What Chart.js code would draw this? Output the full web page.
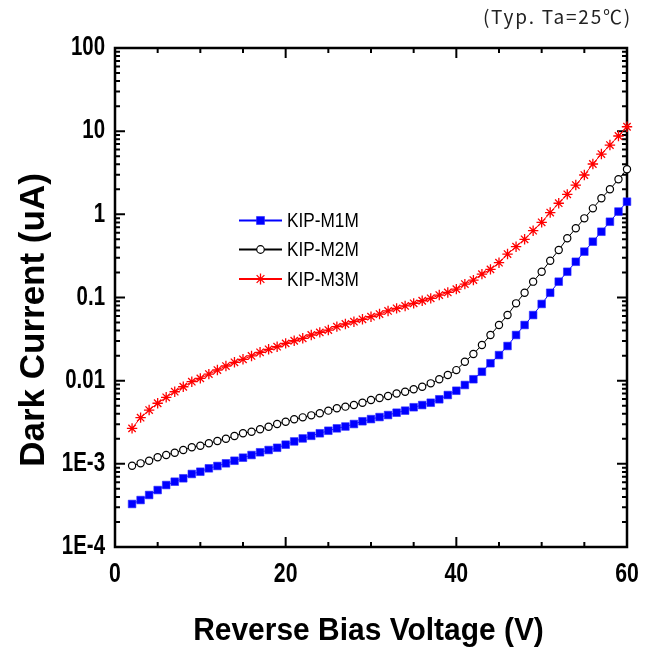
<!DOCTYPE html>
<html><head><meta charset="utf-8">
<script src="https://cdn.jsdelivr.net/npm/chart.js@4.4.1/dist/chart.umd.min.js"></script>
<style>html,body{margin:0;padding:0;background:#fff}#wrap{width:652px;height:648px}</style>
</head><body><div id="wrap"><canvas id="c" width="652" height="648"></canvas></div>
<script>
const voltage = [2,3,4,5,6,7,8,9,10,11,12,13,14,15,16,17,18,19,20,21,22,23,24,25,26,27,28,29,30,31,32,33,34,35,36,37,38,39,40,41,42,43,44,45,46,47,48,49,50,51,52,53,54,55,56,57,58,59,60];
const m1m = [3.29e-4,3.67e-4,4.22e-4,4.84e-4,5.56e-4,6.10e-4,6.70e-4,7.55e-4,8.04e-4,8.83e-4,
  9.42e-4,1.014e-3,1.09e-3,1.186e-3,1.276e-3,1.377e-3,1.466e-3,1.56e-3,1.70e-3,1.86e-3,
  2.02e-3,2.17e-3,2.33e-3,2.50e-3,2.67e-3,2.81e-3,3.01e-3,3.25e-3,3.45e-3,3.65e-3,
  3.86e-3,4.12e-3,4.36e-3,4.79e-3,5.09e-3,5.43e-3,5.97e-3,6.72e-3,7.57e-3,8.87e-3,
  0.0104,0.0128,0.0162,0.0203,0.0261,0.0354,0.0467,0.0615,0.0836,0.114,
  0.155,0.204,0.269,0.356,0.469,0.618,0.815,1.08,1.42];
const m2m = [9.5e-4,1.014e-3,1.09e-3,1.198e-3,1.276e-3,1.36e-3,1.466e-3,1.58e-3,1.65e-3,1.77e-3,
  1.88e-3,2.0e-3,2.16e-3,2.33e-3,2.43e-3,2.60e-3,2.79e-3,3.01e-3,3.21e-3,3.43e-3,
  3.62e-3,3.83e-3,4.05e-3,4.36e-3,4.66e-3,4.87e-3,5.09e-3,5.43e-3,5.85e-3,6.19e-3,
  6.54e-3,7.01e-3,7.36e-3,7.87e-3,8.45e-3,9.29e-3,0.01038,0.0117,0.0134,0.0169,
  0.0209,0.0269,0.0354,0.0467,0.0615,0.0851,0.114,0.155,0.204,0.277,
  0.372,0.515,0.679,0.895,1.18,1.56,2.0,2.64,3.48];
const m3m = [0.00267,0.00359,0.00443,0.00535,0.00631,0.00736,0.00845,0.00972,0.01066,0.0120,
  0.01343,0.0150,0.01663,0.01807,0.01982,0.02193,0.02382,0.02559,0.0281,0.0302,
  0.0323,0.0354,0.0381,0.0406,0.0446,0.0480,0.0512,0.0547,0.0588,0.0632,
  0.0689,0.0741,0.0791,0.0851,0.0914,0.0977,0.107,0.115,0.126,0.145,
  0.162,0.191,0.218,0.262,0.333,0.408,0.501,0.636,0.802,1.05,
  1.36,1.74,2.25,2.97,4.03,5.31,6.81,8.75,11.3];
const seriesNames = ['KIP-M1M','KIP-M2M','KIP-M3M'];
const xTickValues = [0,20,40,60];
const xTickLabels = ['0','20','40','60'];
const yTickValues = [1e-4,1e-3,0.01,0.1,1,10,100];
const yTickLabels = ['1E-4','1E-3','0.01','0.1','1','10','100'];
const noteText = '(Typ. Ta=25\u2103)';
const xTitle = 'Reverse Bias Voltage (V)';
const yTitle = 'Dark Current (uA)';

const SANS = "'Liberation Sans',Arial,sans-serif";
const CJK = "'Noto Sans CJK KR','Liberation Sans',sans-serif";

function pts(arr){ return voltage.map((v,i)=>({x:v,y:arr[i]})); }

function squeezed(ctx, text, x, y, sx, align){
  ctx.save();
  ctx.translate(x,y);
  ctx.scale(sx,1);
  ctx.textAlign = align;
  ctx.fillText(text,0,0);
  ctx.restore();
}

const framePlugin = {
  id:'frame',
  beforeDatasetsDraw(chart){
    const {ctx, chartArea:a, scales:{x,y}} = chart;
    ctx.save();
    ctx.strokeStyle='#000';
    ctx.lineWidth=2;
    ctx.beginPath();
    for(let v=0; v<=60; v+=5){
      const px = x.getPixelForValue(v);
      const len = (v%20===0)?10:5;
      ctx.moveTo(px,a.bottom); ctx.lineTo(px,a.bottom-len);
      ctx.moveTo(px,a.top); ctx.lineTo(px,a.top+len);
    }
    for(let d=-4; d<=2; d++){
      for(let k=1;k<=9;k++){
        const v = k*Math.pow(10,d);
        if (v>100.0001) break;
        const py = y.getPixelForValue(v);
        const len = (k===1)?10:5;
        ctx.moveTo(a.left,py); ctx.lineTo(a.left+len,py);
        ctx.moveTo(a.right,py); ctx.lineTo(a.right-len,py);
      }
    }
    ctx.stroke();
    ctx.lineWidth=2.5;
    ctx.strokeRect(a.left,a.top,a.right-a.left,a.bottom-a.top);
    ctx.restore();
  },
  afterDraw(chart){
    const {ctx, scales:{x,y}} = chart;
    ctx.save();
    // tick labels (condensed bold)
    ctx.fillStyle='#000';
    ctx.font = "bold 28px "+SANS;
    ctx.textBaseline='middle';
    xTickValues.forEach((v,i)=>{
      squeezed(ctx, xTickLabels[i], x.getPixelForValue(v), 574, 0.76, 'center');
    });
    yTickValues.forEach((v,i)=>{
      squeezed(ctx, yTickLabels[i], 105, y.getPixelForValue(v)-0.5, 0.73, 'right');
    });
    // note
    ctx.fillStyle='#222';
    ctx.font = "19px "+CJK;
    ctx.letterSpacing = '1.8px';
    ctx.textAlign='right'; ctx.textBaseline='middle';
    ctx.fillText(noteText, 632, 17);
    ctx.letterSpacing = '0px';
    // x title
    ctx.fillStyle='#000';
    ctx.font = "bold 32px "+SANS;
    ctx.textBaseline='alphabetic';
    squeezed(ctx, xTitle, 368.5, 640, 0.936, 'center');
    // y title
    ctx.save();
    ctx.translate(44, 320);
    ctx.rotate(-Math.PI/2);
    ctx.font = "bold 35px "+SANS;
    ctx.textAlign='center'; ctx.textBaseline='alphabetic';
    ctx.fillText(yTitle, 0, 0);
    ctx.restore();
    // legend
    const rows = [220.5, 249.5, 279];
    chart.data.datasets.forEach((ds,i)=>{
      const yy = rows[i];
      ctx.strokeStyle = ds.borderColor;
      ctx.lineWidth = 2;
      ctx.beginPath(); ctx.moveTo(239,yy); ctx.lineTo(282,yy); ctx.stroke();
      ctx.fillStyle = ds.pointBackgroundColor;
      ctx.strokeStyle = ds.pointBorderColor;
      ctx.lineWidth = ds.pointBorderWidth;
      Chart.helpers.drawPoint(ctx, {pointStyle: ds.pointStyle, radius: ds.pointRadius*1.05, rotation:0, borderWidth: ds.pointBorderWidth}, 260.5, yy);
      ctx.fillStyle='#000';
      ctx.font = "21px "+SANS;
      ctx.textBaseline='middle';
      squeezed(ctx, seriesNames[i], 287, yy+1, 0.82, 'left');
    });
    ctx.restore();
  }
};

new Chart(document.getElementById('c'), {
  type:'line',
  data:{
    datasets:[
      {label:seriesNames[0], data:pts(m1m), borderColor:'#0000ff', borderWidth:1,
       pointStyle:'rect', pointRadius:5.4, pointBackgroundColor:'#0000ff', pointBorderColor:'#2a2aff', pointBorderWidth:0.6, clip:false},
      {label:seriesNames[1], data:pts(m2m), borderColor:'#000000', borderWidth:1,
       pointStyle:'circle', pointRadius:3.6, pointBackgroundColor:'#ffffff', pointBorderColor:'#000000', pointBorderWidth:1.2, clip:false},
      {label:seriesNames[2], data:pts(m3m), borderColor:'#ff0000', borderWidth:1,
       pointStyle:'star', pointRadius:5.2, pointBackgroundColor:'#ff0000', pointBorderColor:'#ff0000', pointBorderWidth:1.3, clip:false}
    ]
  },
  options:{
    responsive:false, animation:false, devicePixelRatio:1,
    layout:{padding:{left:0,right:25,top:48,bottom:0}},
    plugins:{legend:{display:false}, tooltip:{enabled:false}},
    elements:{line:{tension:0}},
    scales:{
      x:{type:'linear', min:0, max:60,
        grid:{display:false, drawTicks:false}, border:{display:false},
        afterBuildTicks:(s)=>{ s.ticks = xTickValues.map(v=>({value:v})); },
        afterFit:(s)=>{ s.height = 101; },
        ticks:{display:false}
      },
      y:{type:'logarithmic', min:1e-4, max:100,
        grid:{display:false, drawTicks:false}, border:{display:false},
        afterBuildTicks:(s)=>{ s.ticks = yTickValues.map(v=>({value:v, major:true})); },
        afterFit:(s)=>{ s.width = 115; },
        ticks:{display:false}
      }
    }
  },
  plugins:[framePlugin]
});
</script></body></html>
